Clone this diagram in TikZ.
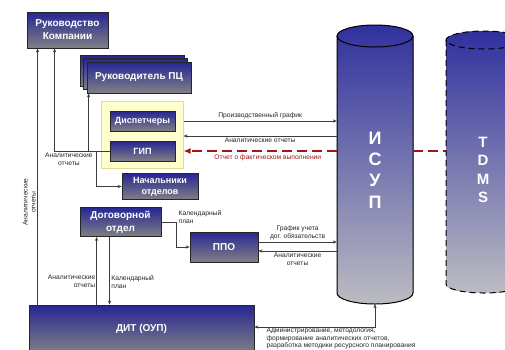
\documentclass[tikz,border=0pt]{standalone}
\usepackage{fontspec}
\setmainfont{Liberation Sans}
\usepackage{tikz}
\usetikzlibrary{arrows.meta,positioning,calc}
\definecolor{boxblue}{RGB}{38,38,148}
\definecolor{boxgray}{RGB}{128,128,132}
\definecolor{cylblue}{RGB}{48,48,158}
\definecolor{cylgray}{RGB}{188,188,194}
\definecolor{cream}{RGB}{255,255,206}
\definecolor{creamline}{RGB}{228,218,150}
\definecolor{darkred}{RGB}{160,22,22}
\definecolor{linegray}{RGB}{60,60,60}

\begin{document}
\begin{tikzpicture}[x=1pt, y=-1pt,
    box/.style={rectangle, draw=black!85, line width=0.8pt, top color=boxblue, bottom color=boxgray, text=white, font=\bfseries\fontsize{10}{13}\selectfont, align=center, inner sep=1pt},
    smallbox/.style={box, font=\bfseries\fontsize{9}{11}\selectfont},
    lbl/.style={font=\fontsize{6.7}{8}\selectfont, align=center, inner sep=1.5pt, text=black!85},
    arrow/.style={-{Stealth[length=4pt, width=3.2pt]}, draw=linegray, line width=0.6pt},
    biarrow/.style={{Stealth[length=4pt, width=3.2pt]}-{Stealth[length=4pt, width=3.2pt]}, draw=linegray, line width=0.6pt},
    redarrow/.style={-{Latex[length=7pt, width=6pt]}, draw=darkred, line width=1.8pt, dash pattern=on 10pt off 5pt},
    reddash/.style={draw=darkred, line width=1.8pt, dash pattern=on 10pt off 5pt},
    cyltext/.style={text=white, font=\bfseries\fontsize{18}{21.3}\selectfont, align=center}
]
\clip (0,0) rectangle (505,349);
\fill[white] (0,0) rectangle (505,349);

% cylinders
\fill[top color=cylblue, bottom color=cylgray] (337,36) -- (337,293) arc[start angle=180, end angle=0, x radius=38, y radius=11] -- (413,36) arc[start angle=0, end angle=-180, x radius=38, y radius=11] -- cycle;
\draw[line width=1pt] (337,36) -- (337,293) arc[start angle=180, end angle=0, x radius=38, y radius=11] -- (413,36);
\draw[line width=1pt] (375,36) ellipse[x radius=38, y radius=11];
\node[minimum width=76pt, minimum height=279pt, inner sep=0pt] (isup) at (375,164.5) {};
\node[cyltext] (isuptxt) at (375,170) {И\\С\\У\\П};

\fill[top color=cylblue, bottom color=cylgray] (446,40) -- (446,284) arc[start angle=180, end angle=0, x radius=38, y radius=9] -- (522,40) arc[start angle=0, end angle=-180, x radius=38, y radius=9] -- cycle;
\draw[line width=1pt, dash pattern=on 6pt off 4pt] (446,40) -- (446,284) arc[start angle=180, end angle=0, x radius=38, y radius=9] -- (522,40);
\draw[line width=1pt, dash pattern=on 6pt off 4pt] (484,40) ellipse[x radius=38, y radius=9];
\node[minimum width=76pt, minimum height=262pt, inner sep=0pt] (tdms) at (484,162) {};
\node[cyltext, font=\bfseries\fontsize{15}{18.5}\selectfont] (tdmstxt) at (483,170) {T\\D\\M\\S};

% boxes
\node[box, minimum width=81pt, minimum height=36pt] (ruk) at (67.5,30) {Руководство\\Компании};
\node[box, minimum width=104pt, minimum height=31pt] (rpc3) at (132,70.5) {};
\node[box, minimum width=104pt, minimum height=31pt] (rpc2) at (135.5,74) {};
\node[box, minimum width=104pt, minimum height=31pt] (rpc) at (139,77.5) {Руководитель ПЦ};
\node[draw=creamline, fill=cream, line width=1pt, minimum width=82pt, minimum height=67pt] (yel) at (142,134.5) {};
\node[smallbox, minimum width=65pt, minimum height=20pt] (disp) at (142.5,121) {Диспетчеры};
\node[smallbox, minimum width=65pt, minimum height=20pt] (gip) at (142.5,151) {ГИП};
\node[smallbox, minimum width=76pt, minimum height=26pt] (nach) at (160,186.5) {Начальники\\отделов};
\node[box, minimum width=81pt, minimum height=29pt] (dog) at (120.5,222) {Договорной\\отдел};
\node[box, minimum width=68pt, minimum height=30pt] (ppo) at (224,247) {ППО};
\node[box, minimum width=225pt, minimum height=48pt] (dit) at (141.5,329) {ДИТ (ОУП)};

\coordinate (mid) at ($(disp.east)!0.5!(gip.east)$);

% connectors
\draw[arrow] ([xshift=9pt]dit.north west) -- ([xshift=9pt]dit.north west |- ruk.south) node[pos=0.4, above, rotate=90, lbl] (lblruk) {Аналитические\\отчеты};
\draw[arrow] (gip.west) -| ([xshift=28pt]ruk.south west) node[pos=0.37, below, lbl] (lblgip) {Аналитические\\отчеты};
\draw[arrow] ([xshift=2pt]rpc.south west |- gip.west) -- ([xshift=2pt]rpc.south west);
\draw[arrow] ([xshift=-25pt]nach.west |- gip.west) |- (nach.west);

\draw[arrow] (yel.east |- disp) -- (isup.west |- disp) node[midway, above, lbl] (lblgraf) {Производственный график};
\draw[arrow] (isup.west |- mid) -- (yel.east |- mid) node[midway, below, lbl] (lblan) {Аналитические отчеты};
\draw[redarrow] (isup.west |- gip) -- (yel.east |- gip) node[pos=0.45, below, lbl, text=darkred, yshift=-1pt] (lblfakt) {Отчет о фактическом выполнении};
\draw[reddash] (isup.east |- gip) -- (tdms.west |- gip);

\draw[arrow] (dog.east) -- ++(15,0) node[right, yshift=5pt, lbl, align=left, inner sep=2pt] (lblkal) {Календарный\\план} |- (ppo.west);
\draw[arrow] ([yshift=5pt]ppo.east) -- ([yshift=5pt]ppo.east -| isup.west) node[midway, above, lbl] (lbldog) {График учета\\дог. обязательств};
\draw[arrow] ([yshift=-4pt]ppo.east -| isup.west) -- ([yshift=-4pt]ppo.east) node[midway, below, lbl] (lblppo) {Аналитические\\отчеты};

\draw[arrow] ([xshift=17pt]dog.south west |- dit.north) -- ([xshift=17pt]dog.south west) node[pos=0.35, left, lbl, align=right, inner sep=1pt] (lbldit) {Аналитические\\отчеты};
\draw[arrow] ([xshift=30pt]dog.south west) -- ([xshift=30pt]dog.south west |- dit.north) node[pos=0.66, right, lbl, align=left, inner sep=1.5pt] (lbldit2) {Календарный\\план};

\draw[biarrow] (isup.south) |- ([yshift=2pt]dit.east) node[pos=0.955, below right, lbl, align=left, inner sep=1pt, font=\fontsize{6.7}{7.4}\selectfont] (lbladm) {Администрирование, методология,\\формирование аналитических отчетов,\\разработка методики ресурсного планирования};
\end{tikzpicture}
\end{document}
